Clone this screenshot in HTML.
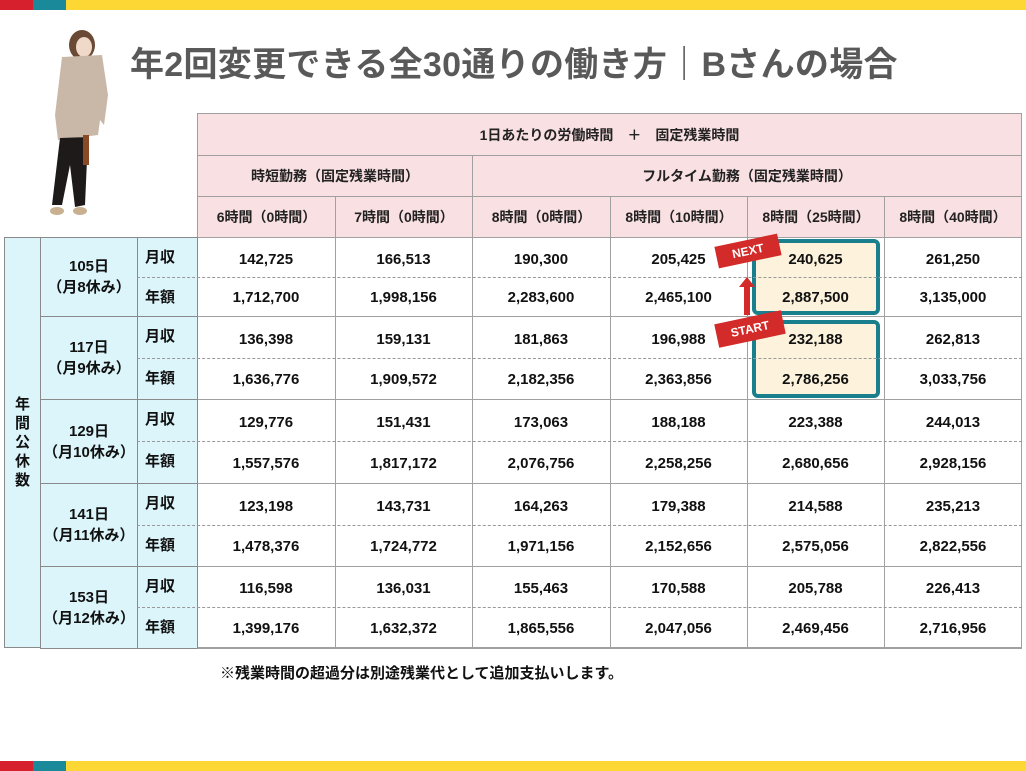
<!DOCTYPE html>
<html><head><meta charset="utf-8"><style>
*{margin:0;padding:0;box-sizing:border-box}
body{width:1026px;height:771px;background:#fff;position:relative;overflow:hidden;font-family:"Liberation Sans","Noto Sans CJK JP",sans-serif;font-weight:bold;color:#111}
.a{position:absolute}
.c{position:absolute;display:flex;align-items:center;justify-content:center;font-size:15px}
.hd{background:#f9e0e3;border:1px solid #a0a0a0;font-size:14px;color:#222}
.cy{background:#dcf5fa;border:1px solid #8a8a8a}
.v{border-left:1px solid #a0a0a0}
</style></head><body>
<div class="a" style="left:0;top:0;width:33px;height:10px;background:#d7202e"></div>
<div class="a" style="left:33px;top:0;width:33px;height:10px;background:#1a8a9b"></div>
<div class="a" style="left:66px;top:0;width:960px;height:10px;background:#fdd835"></div>
<div class="a" style="left:0;top:761px;width:33px;height:10px;background:#d7202e"></div>
<div class="a" style="left:33px;top:761px;width:33px;height:10px;background:#1a8a9b"></div>
<div class="a" style="left:66px;top:761px;width:960px;height:10px;background:#fdd835"></div>

<svg class="a" style="left:40px;top:25px" width="90" height="200">
<ellipse cx="42" cy="20" rx="13" ry="15" fill="#6a4a35"/>
<ellipse cx="44" cy="22" rx="8" ry="10" fill="#f0d9c8"/>
<path d="M22 32 L62 30 L68 70 L64 100 L60 95 L58 110 L18 115 L15 90 Z" fill="#c9b8a8"/>
<path d="M20 113 L48 112 L45 180 L35 182 L30 140 L22 180 L12 180 Z" fill="#1e1a1a"/>
<rect x="43" y="110" width="6" height="30" fill="#8a4a25"/>
<ellipse cx="17" cy="186" rx="7" ry="4" fill="#c8b090"/>
<ellipse cx="40" cy="186" rx="7" ry="4" fill="#c8b090"/>
</svg>

<div class="a" style="left:130px;top:37px;font-size:34px;color:#595959;white-space:nowrap;letter-spacing:0.3px">年2回変更できる全30通りの働き方｜Bさんの場合</div>

<div class="c hd" style="left:197px;top:113px;width:825px;height:43px">1日あたりの労働時間　＋　固定残業時間</div>
<div class="c hd" style="left:197px;top:155px;width:276px;height:42px">時短勤務（固定残業時間）</div>
<div class="c hd" style="left:472px;top:155px;width:550px;height:42px">フルタイム勤務（固定残業時間）</div>
<div class="c hd" style="left:197px;top:196px;width:139px;height:42px">6時間（0時間）</div>
<div class="c hd" style="left:335px;top:196px;width:138px;height:42px">7時間（0時間）</div>
<div class="c hd" style="left:472px;top:196px;width:139px;height:42px">8時間（0時間）</div>
<div class="c hd" style="left:610px;top:196px;width:138px;height:42px">8時間（10時間）</div>
<div class="c hd" style="left:747px;top:196px;width:138px;height:42px">8時間（25時間）</div>
<div class="c hd" style="left:884px;top:196px;width:138px;height:42px">8時間（40時間）</div>

<div class="c cy" style="left:4px;top:237px;width:37px;height:411px;font-size:15px;line-height:19px;text-align:center">年<br>間<br>公<br>休<br>数</div>

<div class="a" style="left:197px;top:237px;width:825px;height:411px;border:1px solid #a0a0a0;border-top:none"></div>
<div class="a v" style="left:335px;top:237px;height:411px"></div>
<div class="a v" style="left:472px;top:237px;height:411px"></div>
<div class="a v" style="left:610px;top:237px;height:411px"></div>
<div class="a v" style="left:747px;top:237px;height:411px"></div>
<div class="a v" style="left:884px;top:237px;height:411px"></div>

<div class="a" style="left:752px;top:239px;width:128px;height:76px;border:4px solid #1a7f8c;border-radius:6px;background:#fdf3dc"></div>
<div class="a" style="left:752px;top:320px;width:128px;height:78px;border:4px solid #1a7f8c;border-radius:6px;background:#fdf3dc"></div>

<div id="rows"></div>
<script>
var g=[[237,316,"105日","（月8休み）",["142,725","166,513","190,300","205,425","240,625","261,250"],["1,712,700","1,998,156","2,283,600","2,465,100","2,887,500","3,135,000"]],
[316,399,"117日","（月9休み）",["136,398","159,131","181,863","196,988","232,188","262,813"],["1,636,776","1,909,572","2,182,356","2,363,856","2,786,256","3,033,756"]],
[399,483,"129日","（月10休み）",["129,776","151,431","173,063","188,188","223,388","244,013"],["1,557,576","1,817,172","2,076,756","2,258,256","2,680,656","2,928,156"]],
[483,566,"141日","（月11休み）",["123,198","143,731","164,263","179,388","214,588","235,213"],["1,478,376","1,724,772","1,971,156","2,152,656","2,575,056","2,822,556"]],
[566,648,"153日","（月12休み）",["116,598","136,031","155,463","170,588","205,788","226,413"],["1,399,176","1,632,372","1,865,556","2,047,056","2,469,456","2,716,956"]]];
var cx=[197,335,472,610,747,884,1022],h="";
g.forEach(function(r){var t=r[0],b=r[1],m=Math.round((t+b)/2);
h+='<div class="c cy" style="left:40px;top:'+t+'px;width:98px;height:'+(b-t+1)+'px;flex-direction:column;line-height:21px"><div>'+r[2]+'</div><div>'+r[3]+'</div></div>';
h+='<div class="a cy" style="left:137px;top:'+t+'px;width:61px;height:'+(b-t+1)+'px"></div>';
h+='<div class="a" style="left:145px;top:'+(t+9)+'px;font-size:15px">月収</div>';
h+='<div class="a" style="left:145px;top:'+(m+9)+'px;font-size:15px">年額</div>';
h+='<div class="a" style="left:137px;top:'+m+'px;width:885px;border-top:1px dashed #999"></div>';
h+='<div class="a" style="left:197px;top:'+b+'px;width:825px;border-top:1px solid #a0a0a0"></div>';
for(var i=0;i<6;i++){h+='<div class="c" style="left:'+cx[i]+'px;top:'+(t+2)+'px;width:'+(cx[i+1]-cx[i])+'px;height:'+(m-t)+'px">'+r[4][i]+'</div>';
h+='<div class="c" style="left:'+cx[i]+'px;top:'+(m+1)+'px;width:'+(cx[i+1]-cx[i])+'px;height:'+(b-m)+'px">'+r[5][i]+'</div>';}
});
document.getElementById('rows').innerHTML=h;
</script>

<div class="a" style="left:744px;top:285px;width:6px;height:30px;background:#d32a2a"></div>
<div class="a" style="left:739px;top:277px;width:0;height:0;border-left:8px solid transparent;border-right:8px solid transparent;border-bottom:10px solid #d32a2a"></div>
<div class="c" style="left:716px;top:240px;width:64px;height:22px;background:#d32a2a;color:#fff;font-size:12px;transform:rotate(-12deg)">NEXT</div>
<div class="c" style="left:716px;top:317px;width:68px;height:24px;background:#d32a2a;color:#fff;font-size:12px;transform:rotate(-12deg)">START</div>

<div class="a" style="left:220px;top:662px;font-size:15px">※残業時間の超過分は別途残業代として追加支払いします。</div>
</body></html>
